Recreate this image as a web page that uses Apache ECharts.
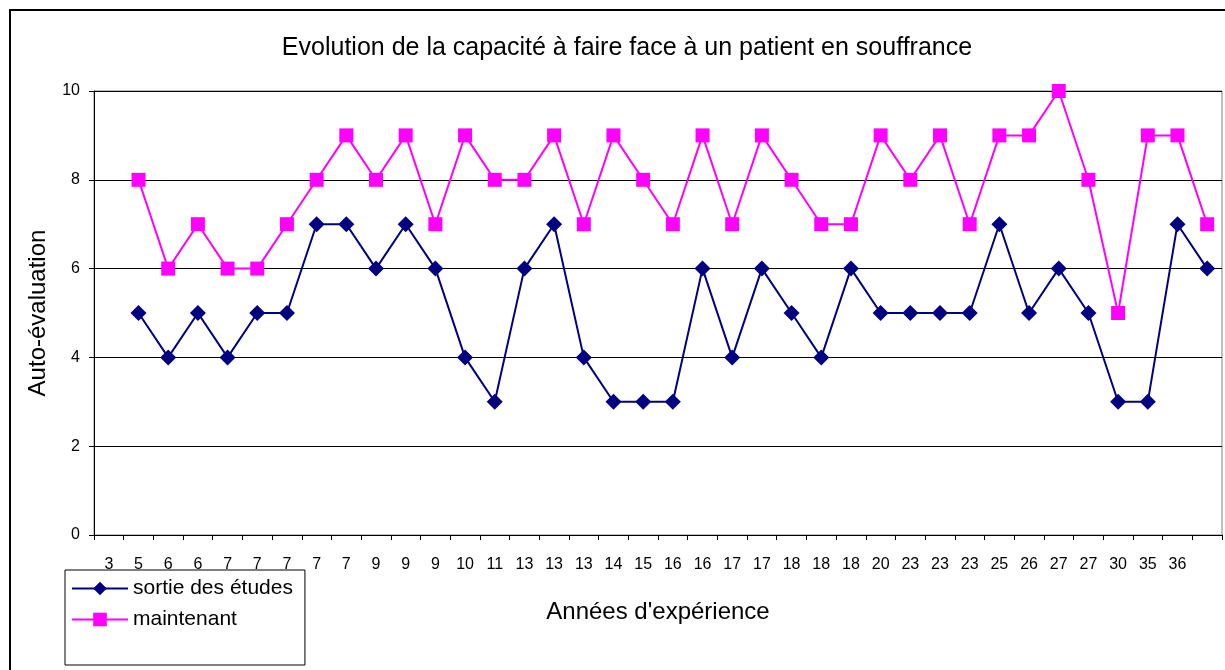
<!DOCTYPE html>
<html><head><meta charset="utf-8">
<script src="https://cdn.jsdelivr.net/npm/echarts@6/dist/echarts.min.js"></script>
<style>html,body{margin:0;padding:0;background:#fff}#c{width:1225px;height:670px}</style>
</head><body><div id="c"></div>
<script>
const categories = ["3","5","6","6","7","7","7","7","7","9","9","9","10","11","13","13","13","14","15","16","16","17","17","18","18","18","20","23","23","23","25","26","27","27","30","35","36",""];
const sortieDesEtudes = [null,5,4,5,4,5,5,7,7,6,7,6,4,3,6,7,4,3,3,3,6,4,6,5,4,6,5,5,5,5,7,5,6,5,3,3,7,6];
const maintenant = [null,8,6,7,6,6,7,8,9,8,9,7,9,8,8,9,7,9,8,7,9,7,9,8,7,7,9,8,9,7,9,9,10,8,5,9,9,7];
const yTicks = {min:0, max:10, interval:2};

const font = "'Liberation Sans', Arial, sans-serif";
const chart = echarts.init(document.getElementById('c'), null, {renderer:'canvas'});
chart.setOption({
  animation:false,
  backgroundColor:'#fff',
  title:{text:'Evolution de la capacité à faire face à un patient en souffrance', left:622, top:31, textAlign:'center',
    textStyle:{fontFamily:font, fontSize:25, fontWeight:'normal', color:'#000'}},
  graphic:[
    {type:'rect', shape:{x:10, y:10, width:1240, height:700}, style:{fill:null, stroke:'#000', lineWidth:2}, z:-1},
    {type:'rect', shape:{x:94, y:91, width:1128, height:444}, style:{fill:null, stroke:'#808080', lineWidth:1}, z:0}
  ],
  grid:{left:94, right:3, top:91, bottom:135, containLabel:false},
  legend:{orient:'vertical', left:65, top:570, itemWidth:56, itemHeight:17, itemGap:10,
    padding:[8,12,35,6], borderColor:'#000', borderWidth:1,
    textStyle:{fontFamily:font, fontSize:21, color:'#000'},
    data:['sortie des études','maintenant']},
  xAxis:{type:'category', data:categories, boundaryGap:true,
    name:"Années d'expérience", nameLocation:'middle', nameGap:65,
    nameTextStyle:{fontFamily:font, fontSize:24, color:'#000'},
    axisLine:{lineStyle:{color:'#000', width:1}},
    axisTick:{show:true, alignWithLabel:false, length:5, lineStyle:{color:'#000'}},
    axisLabel:{interval:0, fontFamily:font, fontSize:16, color:'#000', margin:22},
    splitLine:{show:false}},
  yAxis:{type:'value', min:yTicks.min, max:yTicks.max, interval:yTicks.interval,
    name:'Auto-évaluation', nameLocation:'middle', nameGap:44, nameRotate:90,
    nameTextStyle:{fontFamily:font, fontSize:24, color:'#000'},
    axisLine:{show:true, lineStyle:{color:'#000', width:1}},
    axisTick:{show:true, length:5, lineStyle:{color:'#000'}},
    axisLabel:{fontFamily:font, fontSize:16, color:'#000', margin:14},
    splitLine:{show:true, lineStyle:{color:'#000', width:1}}},
  series:[
    {name:'sortie des études', type:'line', data:sortieDesEtudes, symbol:'diamond', symbolSize:16,
      lineStyle:{color:'#000080', width:2}, itemStyle:{color:'#000080'}, connectNulls:false, z:3},
    {name:'maintenant', type:'line', data:maintenant, symbol:'rect', symbolSize:14,
      lineStyle:{color:'#FF00FF', width:2}, itemStyle:{color:'#FF00FF'}, connectNulls:false, z:4}
  ]
});
</script></body></html>
